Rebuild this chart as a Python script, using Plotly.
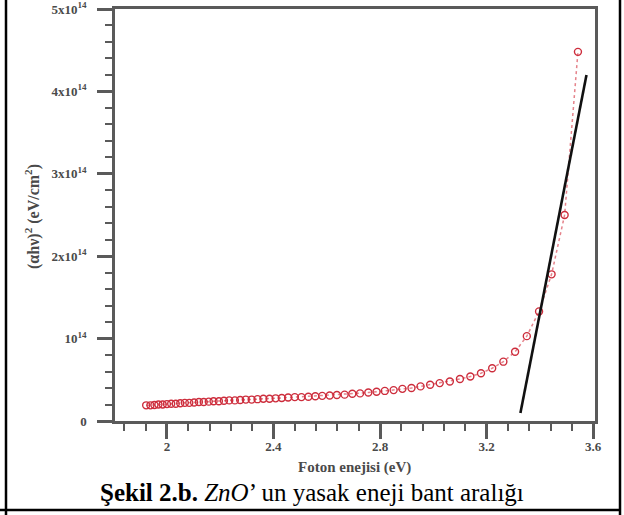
import plotly.graph_objects as go

# Photon energy (eV) and (alpha*h*nu)^2 in units of 1e14 eV^2/cm^2
energy = [1.922, 1.938, 1.953, 1.968, 1.984, 2.000, 2.016, 2.033, 2.050, 2.067,
          2.084, 2.102, 2.120, 2.138, 2.157, 2.175, 2.195, 2.214, 2.234, 2.255,
          2.275, 2.296, 2.318, 2.340, 2.362, 2.385, 2.408, 2.431, 2.455, 2.480,
          2.505, 2.531, 2.557, 2.583, 2.611, 2.638, 2.667, 2.696, 2.725, 2.756,
          2.787, 2.818, 2.851, 2.884, 2.918, 2.952, 2.988, 3.024, 3.062, 3.100,
          3.139, 3.179, 3.221, 3.263, 3.307, 3.351, 3.397, 3.444, 3.493, 3.543]
ahv2 = [0.19, 0.19, 0.195, 0.20, 0.20, 0.205, 0.21, 0.21, 0.215, 0.22,
        0.22, 0.225, 0.23, 0.23, 0.235, 0.24, 0.24, 0.245, 0.25, 0.25,
        0.255, 0.26, 0.26, 0.265, 0.27, 0.27, 0.275, 0.28, 0.285, 0.29,
        0.29, 0.295, 0.30, 0.305, 0.31, 0.315, 0.32, 0.33, 0.335, 0.345,
        0.355, 0.365, 0.375, 0.39, 0.40, 0.42, 0.44, 0.46, 0.48, 0.51,
        0.54, 0.58, 0.64, 0.72, 0.84, 1.03, 1.33, 1.78, 2.50, 4.48]

# Linear fit of the absorption edge
fit_x = [3.327, 3.575]
fit_y = [0.097, 4.2]

y_tickvals = [0, 1, 2, 3, 4, 5]
y_ticktext = ["0", "10<sup>14</sup>", "2x10<sup>14</sup>", "3x10<sup>14</sup>",
              "4x10<sup>14</sup>", "5x10<sup>14</sup>"]
x_tickvals = [2.0, 2.4, 2.8, 3.2, 3.6]
x_ticktext = ["2", "2.4", "2.8", "3.2", "3.6"]

W, H = 624, 515
L, R, T, B = 115, 29, 9, 94
pw, ph = W - L - R, H - T - B


def px(x):
    return (x - L) / pw


def py(y):
    return (H - B - y) / ph


serif = "Liberation Serif"
axis_grey = "#5a5a5a"
label_grey = "#4a4a4a"
red = "rgb(205,45,60)"

fig = go.Figure()
fig.add_trace(go.Scatter(
    x=energy, y=ahv2, mode="lines+markers",
    line=dict(color="rgba(220,90,100,0.75)", width=1.5, dash="dot"),
    marker=dict(symbol="circle-open", size=7, color=red, line=dict(width=1.4, color=red)),
    showlegend=False, cliponaxis=False,
))
fig.add_trace(go.Scatter(
    x=fit_x, y=fit_y, mode="lines",
    line=dict(color="#111111", width=2.6), showlegend=False,
))

axis_common = dict(
    showgrid=False, zeroline=False, showline=True, linecolor=axis_grey, linewidth=2.5,
    mirror=True, ticks="outside", ticklen=15, tickwidth=2.5, tickcolor=axis_grey,
    tickfont=dict(family=serif, size=13, color=label_grey, weight="bold"),
)
fig.update_xaxes(
    range=[1.805, 3.607], tickmode="array", tickvals=x_tickvals, ticktext=x_ticktext,
    minor=dict(tickmode="linear", tick0=2.0, dtick=0.08, ticks="outside", ticklen=7,
               tickwidth=2, tickcolor=axis_grey),
    ticklabelstandoff=-3,
    **axis_common,
)
fig.update_yaxes(
    range=[0, 5], tickmode="array", tickvals=y_tickvals, ticktext=y_ticktext,
    minor=dict(tickmode="linear", tick0=0, dtick=0.2, ticks="outside", ticklen=7,
               tickwidth=2, tickcolor=axis_grey),
    ticklabelstandoff=8,
    **axis_common,
)

fig.add_annotation(
    text="(αhν)<sup>2</sup> (eV/cm<sup>2</sup>)", textangle=-90,
    xref="paper", yref="paper", x=px(32), y=py(217), xanchor="center", yanchor="middle",
    showarrow=False,
    font=dict(family=serif, size=16, color=label_grey, weight="bold"),
)
fig.add_annotation(
    text="Foton enejisi (eV)",
    xref="paper", yref="paper", x=px(354), y=py(467), xanchor="center", yanchor="middle",
    showarrow=False,
    font=dict(family=serif, size=15, color=label_grey, weight="bold"),
)
fig.add_annotation(
    text="<b>Şekil 2.b.</b> <i>ZnO</i>’ un yasak eneji bant aralığı",
    xref="paper", yref="paper", x=px(312), y=py(493), xanchor="center", yanchor="middle",
    showarrow=False,
    font=dict(family=serif, size=25, color="#000000"),
)

# Table-cell frame around the figure
frame = dict(color="#000000", width=2.5)
fig.add_shape(type="line", xref="paper", yref="paper",
              x0=px(6), x1=px(6), y0=py(0), y1=py(515), line=frame)
fig.add_shape(type="line", xref="paper", yref="paper",
              x0=px(620), x1=px(620), y0=py(0), y1=py(515), line=frame)
fig.add_shape(type="line", xref="paper", yref="paper",
              x0=px(0), x1=px(621), y0=py(510), y1=py(510), line=frame)

fig.update_layout(
    width=W, height=H, margin=dict(l=L, r=R, t=T, b=B, autoexpand=False),
    paper_bgcolor="white", plot_bgcolor="white",
)

fig.write_html("out.html")
